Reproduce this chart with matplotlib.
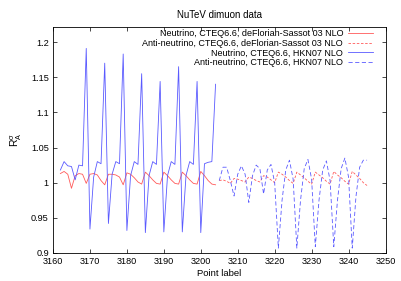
import matplotlib
matplotlib.use("Agg")
import matplotlib.pyplot as plt
from matplotlib.ticker import FixedLocator

plt.rcParams['font.family'] = ['Liberation Sans', 'DejaVu Sans']
plt.rcParams['mathtext.fontset'] = 'custom'
plt.rcParams['mathtext.rm'] = 'Liberation Sans'
plt.rcParams['mathtext.it'] = 'Liberation Sans:italic'

# Neutrino points
nu_x = list(range(3162, 3205))
nu_ds = [1.013, 1.016, 1.012, 0.992, 1.010, 1.013, 1.012, 0.999,
         1.012, 1.013, 1.011, 1.003, 0.997,
         1.012, 1.012, 1.011, 1.008, 0.997,
         1.014, 1.012, 1.007, 1.001, 0.998,
         1.015, 1.010, 1.004, 0.999, 0.998,
         1.015, 1.010, 1.004, 0.999, 0.998,
         1.015, 1.010, 1.004, 0.999, 0.998,
         1.016, 1.010, 1.003, 0.998, 0.997]
nu_hkn = [1.018, 1.030, 1.024, 1.023, 1.004, 1.025, 1.024, 1.191,
          0.934, 1.008, 1.030, 1.027, 1.170,
          0.942, 1.012, 1.030, 1.027, 1.183,
          0.932, 1.010, 1.030, 1.026, 1.155,
          0.929, 1.010, 1.030, 1.026, 1.144,
          0.930, 1.010, 1.030, 1.026, 1.165,
          0.930, 1.010, 1.030, 1.026, 1.144,
          0.929, 1.027, 1.029, 1.030, 1.140]

# Anti-neutrino points
anu_x = list(range(3205, 3246))
anu_ds = [1.003, 1.004, 1.002, 0.999,
          1.006, 1.005, 1.003, 1.001,
          1.008, 1.006, 1.003, 1.001,
          1.010, 1.008, 1.004, 1.000,
          1.015, 1.012, 1.008, 1.003, 0.999,
          1.015, 1.011, 1.007, 1.002, 0.998,
          1.015, 1.011, 1.007, 1.002, 0.998,
          1.016, 1.011, 1.007, 1.002, 0.998,
          1.016, 1.011, 1.006, 1.000, 0.996]
anu_hkn = [1.003, 1.022, 1.022, 1.003,
           0.981, 1.012, 1.024, 1.012,
           0.972, 1.010, 1.025, 1.020,
           0.984, 1.018, 1.026, 1.000,
           0.907, 0.975, 1.018, 1.032, 1.005,
           0.907, 0.975, 1.020, 1.033, 1.005,
           0.909, 0.975, 1.018, 1.031, 1.003,
           0.909, 0.975, 1.020, 1.035, 1.008,
           0.907, 0.980, 1.022, 1.032, 1.032]

labels = ["Neutrino, CTEQ6.6, deFlorian-Sassot 03 NLO",
          "Anti-neutrino, CTEQ6.6, deFlorian-Sassot 03 NLO",
          "Neutrino, CTEQ6.6, HKN07 NLO",
          "Anti-neutrino, CTEQ6.6, HKN07 NLO"]
xticks = list(range(3160, 3251, 10))
yticks = [0.9, 0.95, 1.0, 1.05, 1.1, 1.15, 1.2]
yticklabels = ["0.9", "0.95", "1", "1.05", "1.1", "1.15", "1.2"]

fig = plt.figure(figsize=(4.01, 2.81), dpi=100)
ax_w = 385.5 - 53
ax_h = 253 - 27.3
ax = fig.add_axes([53/401, 1-253/281, ax_w/401, ax_h/281])

red = '#ff5a5a'
blue = '#5a5aff'
lw = 0.6
ax.plot(nu_x, nu_ds, color=red, lw=lw, label=labels[0])
ax.plot(anu_x, anu_ds, color=red, lw=lw, dashes=(3, 2), label=labels[1])
ax.plot(nu_x, nu_hkn, color=blue, lw=lw, label=labels[2])
ax.plot(anu_x, anu_hkn, color=blue, lw=lw, dashes=(5, 3), label=labels[3])

ax.set_xlim(3160, 3250)
ax.set_ylim(0.9, 1.221)
ax.xaxis.set_major_locator(FixedLocator(xticks))
ax.set_yticks(yticks)
ax.set_yticklabels(yticklabels)
ax.tick_params(direction='in', top=True, right=True, length=3, width=0.5,
               labelsize=6.6, pad=3)
for s in ax.spines.values():
    s.set_linewidth(0.6)

ax.set_title("NuTeV dimuon data", fontsize=7, pad=6.5)
ax.set_xlabel("Point label", fontsize=6.8, labelpad=2)
ax.set_ylabel(r"$\mathregular{R_A^{\sigma}}$", fontsize=7.5, labelpad=5)

leg = ax.legend(loc='upper right', markerfirst=False, frameon=False,
                fontsize=6.45, handlelength=2.8, handletextpad=0.6,
                labelspacing=0.06, borderaxespad=0, borderpad=0,
                bbox_to_anchor=((373.5 - 53)/ax_w, 1 - (29.5 - 27.3)/ax_h))

fig.savefig("out.png", dpi=100)
